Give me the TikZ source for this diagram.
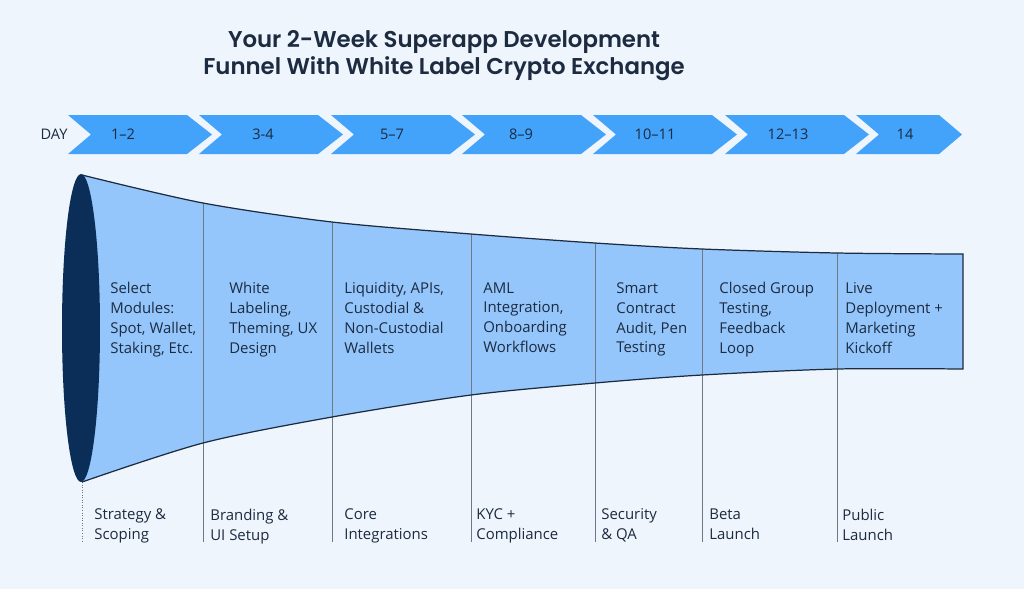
\documentclass[tikz,border=0pt]{standalone}
\usepackage{fontspec}
\setmainfont{Open Sans}
\newfontfamily\titlefont{Poppins}[BoldFont={Poppins SemiBold}]
\usepackage{xcolor}
\usetikzlibrary{positioning}
\definecolor{bgcol}{HTML}{EFF5FC}
\definecolor{chevblue}{HTML}{43A2FA}
\definecolor{funnelblue}{HTML}{94C6FC}
\definecolor{navy}{HTML}{0B2E58}
\definecolor{inkcol}{HTML}{1C2B40}
\definecolor{gridgray}{HTML}{6E7986}

\begin{document}
\begin{tikzpicture}
	[x=0.02cm, y=-0.02cm,
	title/.style = {font=\titlefont\bfseries\fontsize{13}{15.3}\selectfont, text=inkcol, align=center},
	day/.style = {font=\fontsize{8.3}{10}\selectfont, text=inkcol, inner sep=0pt},
	task/.style = {font=\fontsize{8.5}{11.34}\selectfont, text=inkcol, align=left, anchor=north west, inner sep=0pt},
	chev/.style = {fill=chevblue},
	divider/.style = {draw=gridgray, line width=0.45pt}]
	\fill[bgcol] (0,0) rectangle (1024,589);
	\useasboundingbox (0,0) rectangle (1024,589);
	\node[title] (title) at (444,56) {Your 2-Week Superapp Development\\Funnel With White Label Crypto Exchange};
	% day chevrons
	\fill[chev] (68,115) -- (187,115) -- (212,134.5) -- (187,154) -- (68,154) -- (91,134.5) -- cycle;
	\fill[chev] (199,115) -- (318,115) -- (343,134.5) -- (318,154) -- (199,154) -- (222,134.5) -- cycle;
	\fill[chev] (331,115) -- (450,115) -- (475,134.5) -- (450,154) -- (331,154) -- (354,134.5) -- cycle;
	\fill[chev] (462,115) -- (581,115) -- (606,134.5) -- (581,154) -- (462,154) -- (485,134.5) -- cycle;
	\fill[chev] (593,115) -- (712,115) -- (737,134.5) -- (712,154) -- (593,154) -- (616,134.5) -- cycle;
	\fill[chev] (725,115) -- (844,115) -- (869,134.5) -- (844,154) -- (725,154) -- (748,134.5) -- cycle;
	\fill[chev] (856,115) -- (939,115) -- (962,134.5) -- (939,154) -- (856,154) -- (879,134.5) -- cycle;
	\node[day] (day) at (54,134.5) {DAY};
	\node[day] (d1) at (123,134.5) {1–2};
	\node[day] (d2) at (263,134.5) {3-4};
	\node[day] (d3) at (392,134.5) {5–7};
	\node[day] (d4) at (521,134.5) {8–9};
	\node[day] (d5) at (655,134.5) {10–11};
	\node[day] (d6) at (788,134.5) {12–13};
	\node[day] (d7) at (905,134.5) {14};
	% funnel
	\fill[funnelblue] plot[smooth] coordinates {(82,175) (203,203) (332,222) (471,234) (595,243) (702,249) (837,253) (963,254)}
		-- plot[smooth] coordinates {(963,369) (837,369) (702,375) (595,383) (471,395) (332,417) (203,443) (82,482)} -- cycle;
	\draw[divider] (203,203) -- (203,542);
	\draw[divider] (332,222) -- (332,542);
	\draw[divider] (471,234) -- (471,542);
	\draw[divider] (595,243) -- (595,542);
	\draw[divider] (702,249) -- (702,542);
	\draw[divider] (837,253) -- (837,542);
	\draw[divider, densely dotted] (82,482) -- (82,542);
	\draw[inkcol, line width=0.7pt] plot[smooth] coordinates {(82,175) (203,203) (332,222) (471,234) (595,243) (702,249) (837,253) (963,254)}
		-- (963,369) -- plot[smooth] coordinates {(963,369) (837,369) (702,375) (595,383) (471,395) (332,417) (203,443) (82,482)};
	\fill[navy] (81,328) ellipse [x radius=0.38cm, y radius=3.08cm];
	% stage texts
	\node[task] (t1) at (110,282) {Select\\Modules:\\Spot, Wallet,\\Staking, Etc.};
	\node[task] (t2) at (229,282) {White\\Labeling,\\Theming, UX\\Design};
	\node[task] (t3) at (344,282) {Liquidity, APIs,\\Custodial \&\\Non-Custodial\\Wallets};
	\node[task] (t4) at (483,282) {AML\\Integration,\\Onboarding\\Workflows};
	\node[task] (t5) at (616,282) {Smart\\Contract\\Audit, Pen\\Testing};
	\node[task] (t6) at (719,282) {Closed Group\\Testing,\\Feedback\\Loop};
	\node[task] (t7) at (845,282) {Live\\Deployment +\\Marketing\\Kickoff};
	% phase names
	\node[task] (p1) at (94,508.5) {Strategy \&\\Scoping};
	\node[task] (p2) at (210,508.5) {Branding \&\\UI Setup};
	\node[task] (p3) at (344,508.5) {Core\\Integrations};
	\node[task] (p4) at (476,508.5) {KYC +\\Compliance};
	\node[task] (p5) at (601,508.5) {Security\\\& QA};
	\node[task] (p6) at (709,508.5) {Beta\\Launch};
	\node[task] (p7) at (842,508.5) {Public\\Launch};
\end{tikzpicture}
\end{document}
